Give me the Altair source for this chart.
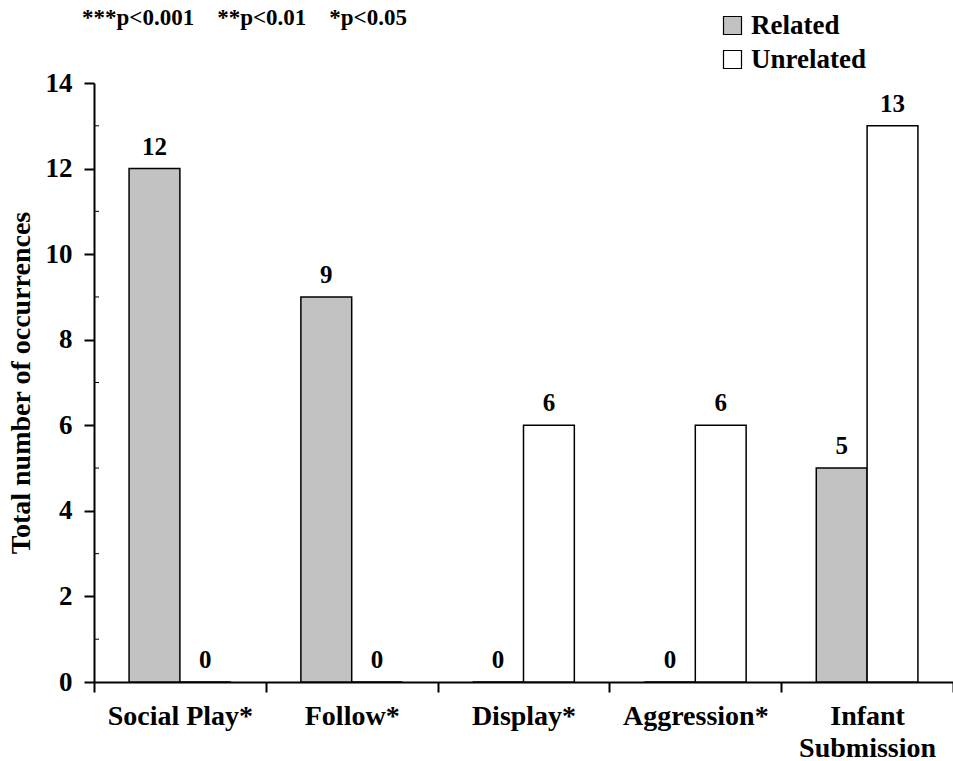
import altair as alt
import pandas as pd

# Behaviour categories and total counts for each kinship group
categories = ["Social Play*", "Follow*", "Display*", "Aggression*", "Infant Submission"]
groups = ["Related", "Unrelated"]
related = [12, 9, 0, 0, 5]
unrelated = [0, 0, 6, 6, 13]
y_ticks = [0, 2, 4, 6, 8, 10, 12, 14]
minor_ticks = [1, 3, 5, 7, 9, 11, 13]
note = "***p<0.001\u00a0\u00a0\u00a0\u00a0**p<0.01\u00a0\u00a0\u00a0\u00a0*p<0.05"

rows = []
for cat, r, u in zip(categories, related, unrelated):
    rows.append({"category": cat, "group": "Related", "count": r})
    rows.append({"category": cat, "group": "Unrelated", "count": u})
df = pd.DataFrame(rows)
minor_df = pd.DataFrame({"count": minor_ticks})
note_df = pd.DataFrame({"note": [note]})

FONT = "Liberation Serif"

x_enc = alt.X(
    "category:N",
    sort=categories,
    scale=alt.Scale(paddingInner=0, paddingOuter=0),
    axis=alt.Axis(
        title=None,
        labelAngle=0,
        tickBand="extent",
        tickSize=10,
        labelPadding=10,
        labelFontSize=28,
        labelLineHeight=32,
        labelExpr="datum.value == 'Infant Submission' ? ['Infant', 'Submission'] : datum.value",
    ),
)
xoff_enc = alt.XOffset(
    "group:N", sort=groups, scale=alt.Scale(paddingInner=0, paddingOuter=0.69)
)
y_scale = alt.Scale(domain=[0, 14], nice=False)
y_axis = alt.Axis(
    title="Total number of occurrences",
    values=y_ticks,
    tickSize=10,
    labelPadding=12,
    labelFontSize=27,
    titleFontSize=28,
    titleFont=FONT,
    titleFontWeight="bold",
    titleColor="black",
    titlePadding=10,
    grid=False,
)

base = alt.Chart(df).encode(x=x_enc, xOffset=xoff_enc)

bars = base.mark_bar(stroke="black", strokeWidth=1.5).encode(
    y=alt.Y("count:Q", scale=y_scale, axis=y_axis),
    color=alt.Color(
        "group:N",
        sort=groups,
        scale=alt.Scale(domain=groups, range=["#c2c2c2", "#ffffff"]),
        legend=alt.Legend(
            title=None,
            orient="none",
            legendX=625,
            legendY=-71,
            padding=0,
            symbolType="square",
            symbolSize=324,
            symbolStrokeColor="black",
            symbolStrokeWidth=1.2,
            labelFont=FONT,
            labelFontWeight="bold",
            labelFontSize=27,
            labelColor="black",
            labelOffset=5,
            rowPadding=6,
        ),
    ),
)

labels = base.mark_text(
    font=FONT, fontWeight="bold", fontSize=25, color="black", baseline="alphabetic", dy=-14
).encode(
    y=alt.Y("count:Q", scale=y_scale, axis=y_axis),
    text=alt.Text("count:Q"),
)

# short inward minor ticks at odd counts
minor = alt.Chart(minor_df).mark_rule(color="black", strokeWidth=1).encode(
    x=alt.value(0),
    x2=alt.value(5),
    y=alt.Y("count:Q", scale=y_scale, axis=y_axis),
)

# significance key above the plot
key = alt.Chart(note_df).mark_text(
    font=FONT, fontWeight="bold", fontSize=23, color="black", align="left", baseline="alphabetic"
).encode(
    x=alt.value(-12),
    y=alt.value(-58),
    text="note:N",
)

chart = (
    alt.layer(bars, labels, minor, key)
    .properties(
        width=859,
        height=599,
        autosize=alt.AutoSizeParams(type="none"),
        padding={"left": 94, "top": 83, "right": 0, "bottom": 79},
    )
    .configure_view(stroke=None)
    .configure_axis(
        domainColor="black",
        domainWidth=2,
        tickColor="black",
        tickWidth=2,
        labelFont=FONT,
        labelFontWeight="bold",
        labelColor="black",
    )
)

chart.save("out.html", embed_options={"renderer": "svg", "actions": False})
